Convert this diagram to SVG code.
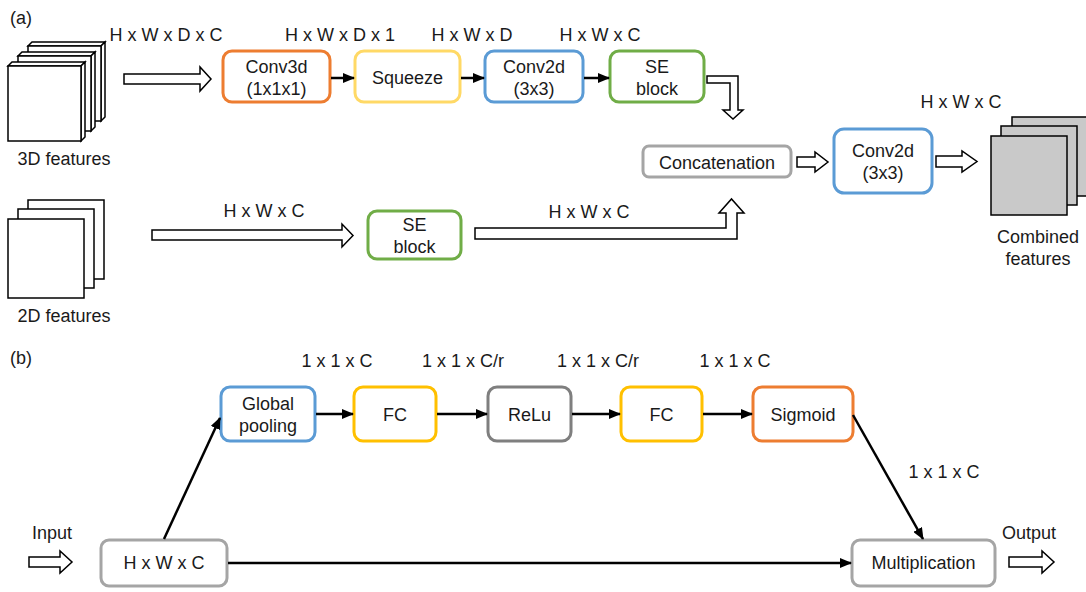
<svg xmlns="http://www.w3.org/2000/svg" width="1086" height="592" viewBox="0 0 1086 592">
  <defs>
    <style>
      text { font-family: "Liberation Sans", Arial, sans-serif; font-size: 18px; fill: #1a1a1a; }
      .c { text-anchor: middle; }
      .box { fill: #ffffff; stroke-width: 3; }
      .orange { stroke: #ED7D31; }
      .ylight { stroke: #FFD966; }
      .yellow { stroke: #FFC000; }
      .blue { stroke: #5B9BD5; }
      .green { stroke: #70AD47; }
      .grey { stroke: #A5A5A5; }
      .dgrey { stroke: #7F7F7F; }
      .hollow { fill: #ffffff; stroke: #000000; stroke-width: 1.5; stroke-linejoin: miter; }
      .link { fill: none; stroke: #000000; stroke-width: 2.5; marker-end: url(#head); }
      .sheet { fill: #ffffff; stroke: #000000; stroke-width: 1.5; stroke-linejoin: miter; }
      .gsheet { fill: #C9C9C9; stroke: #000000; stroke-width: 1.5; }
    </style>
    <marker id="head" markerUnits="userSpaceOnUse" markerWidth="12" markerHeight="10" refX="11" refY="5" orient="auto">
      <path d="M0,0 L12,5 L0,10 Z" fill="#000000"/>
    </marker>
    <!-- one slab of the 3D feature stack: top face, side face, front face -->
    <g id="slab">
      <path class="sheet" d="M0,0 L4,-4 L77,-4 L73,0 Z"/>
      <path class="sheet" d="M73,0 L77,-4 L77,71 L73,75 Z"/>
      <rect class="sheet" x="0" y="0" width="73" height="75"/>
    </g>
  </defs>

  <!-- panel labels -->
  <text x="10" y="24">(a)</text>
  <text x="10" y="364">(b)</text>

  <!-- ===== (a) ===== -->
  <g id="features3d">
    <use href="#slab" x="28" y="46"/>
    <use href="#slab" x="18" y="56"/>
    <use href="#slab" x="8" y="66"/>
    <text class="c" x="64" y="165">3D features</text>
  </g>

  <g id="features2d">
    <rect class="sheet" x="28" y="200" width="76" height="79"/>
    <rect class="sheet" x="18" y="209" width="76" height="79"/>
    <rect class="sheet" x="8" y="219" width="76" height="79"/>
    <text class="c" x="64" y="322">2D features</text>
  </g>

  <g id="conv3d">
    <rect class="box orange" x="223" y="51" width="107" height="51" rx="9"/>
    <text class="c" x="276.5" y="73">Conv3d</text>
    <text class="c" x="276.5" y="95">(1x1x1)</text>
  </g>
  <g id="squeeze">
    <rect class="box ylight" x="355" y="51" width="105" height="51" rx="9"/>
    <text class="c" x="407.5" y="84">Squeeze</text>
  </g>
  <g id="conv2d-a">
    <rect class="box blue" x="485" y="51" width="98" height="51" rx="9"/>
    <text class="c" x="534" y="73">Conv2d</text>
    <text class="c" x="534" y="95">(3x3)</text>
  </g>
  <g id="se-3d">
    <rect class="box green" x="610" y="51" width="94" height="51" rx="9"/>
    <text class="c" x="657" y="73">SE</text>
    <text class="c" x="657" y="95">block</text>
  </g>
  <g id="se-2d">
    <rect class="box green" x="368" y="211" width="93" height="48" rx="9"/>
    <text class="c" x="414.5" y="231">SE</text>
    <text class="c" x="414.5" y="253">block</text>
  </g>
  <g id="concat">
    <rect class="box grey" x="643" y="146" width="148" height="31" rx="6"/>
    <text class="c" x="717" y="169">Concatenation</text>
  </g>
  <g id="conv2d-b">
    <rect class="box blue" x="834" y="129" width="98" height="64" rx="10"/>
    <text class="c" x="883" y="157">Conv2d</text>
    <text class="c" x="883" y="179">(3x3)</text>
  </g>
  <g id="combined">
    <rect class="gsheet" x="1012" y="117" width="76" height="79"/>
    <rect class="gsheet" x="1001" y="126" width="76" height="79"/>
    <rect class="gsheet" x="991" y="136" width="76" height="79"/>
    <text class="c" x="1038" y="243">Combined</text>
    <text class="c" x="1038" y="265">features</text>
  </g>

  <!-- tensor shape labels, (a) -->
  <g id="shapes-a">
    <text class="c" x="166" y="41">H x W x D x C</text>
    <text class="c" x="340" y="41">H x W x D x 1</text>
    <text class="c" x="472" y="41">H x W x D</text>
    <text class="c" x="600" y="41">H x W x C</text>
    <text class="c" x="961" y="108">H x W x C</text>
    <text class="c" x="264" y="217">H x W x C</text>
    <text class="c" x="589" y="218">H x W x C</text>
  </g>

  <!-- ===== (b) ===== -->
  <g id="global-pooling">
    <rect class="box blue" x="221" y="387" width="94" height="54" rx="9"/>
    <text class="c" x="268" y="410">Global</text>
    <text class="c" x="268" y="432">pooling</text>
  </g>
  <g id="fc1">
    <rect class="box yellow" x="354" y="387" width="82" height="54" rx="9"/>
    <text class="c" x="395" y="421">FC</text>
  </g>
  <g id="relu">
    <rect class="box dgrey" x="488" y="387" width="83" height="54" rx="9"/>
    <text class="c" x="529.5" y="421">ReLu</text>
  </g>
  <g id="fc2">
    <rect class="box yellow" x="621" y="387" width="81" height="54" rx="9"/>
    <text class="c" x="661.5" y="421">FC</text>
  </g>
  <g id="sigmoid">
    <rect class="box orange" x="753" y="387" width="100" height="54" rx="9"/>
    <text class="c" x="803" y="421">Sigmoid</text>
  </g>
  <g id="input-box">
    <rect class="box grey" x="101" y="540" width="126" height="46" rx="8"/>
    <text class="c" x="164" y="569">H x W x C</text>
  </g>
  <g id="multiplication">
    <rect class="box grey" x="852" y="540" width="143" height="46" rx="8"/>
    <text class="c" x="923.5" y="569">Multiplication</text>
  </g>

  <!-- labels, (b) -->
  <g id="shapes-b">
    <text class="c" x="337" y="367">1 x 1 x C</text>
    <text class="c" x="463" y="367">1 x 1 x C/r</text>
    <text class="c" x="598" y="367">1 x 1 x C/r</text>
    <text class="c" x="735" y="367">1 x 1 x C</text>
    <text class="c" x="944" y="478">1 x 1 x C</text>
    <text class="c" x="52" y="539">Input</text>
    <text class="c" x="1029" y="539">Output</text>
  </g>

  <!-- connectors -->
  <g id="connectors">
    <!-- hollow block arrows -->
    <path class="hollow" d="M124,74 H200 V67 L211,79 L200,91 V84 H124 Z"/>
    <path class="hollow" d="M707,76 H738 V110 H743 L733,119 L723,110 H730 V83 H707 Z"/>
    <path class="hollow" d="M152,230 H342 V224 L353,235.5 L342,247 V240 H152 Z"/>
    <path class="hollow" d="M475,228 H726 V213 H719 L731.5,199 L744,213 H737 V239 H475 Z"/>
    <path class="hollow" d="M797,157 H815 V152 L828,162 L815,172 V167 H797 Z"/>
    <path class="hollow" d="M936,156 H962 V151 L977,161.5 L962,172 V167 H936 Z"/>
    <path class="hollow" d="M29,557 H60 V551 L72,562 L60,573 V567 H29 Z"/>
    <path class="hollow" d="M1009,557 H1042 V551 L1054,562 L1042,573 V567 H1009 Z"/>

    <!-- (a) main path -->
    <line class="link" x1="331" y1="78" x2="354" y2="78"/>
    <line class="link" x1="461" y1="78" x2="484" y2="78"/>
    <line class="link" x1="584" y1="78" x2="609" y2="78"/>

    <!-- (b) squeeze-excitation path -->
    <line class="link" x1="164" y1="539" x2="220" y2="418"/>
    <line class="link" x1="316" y1="414" x2="353" y2="414"/>
    <line class="link" x1="437" y1="414" x2="487" y2="414"/>
    <line class="link" x1="572" y1="414" x2="620" y2="414"/>
    <line class="link" x1="703" y1="414" x2="752" y2="414"/>
    <line class="link" x1="853" y1="415" x2="923" y2="539"/>
    <line class="link" x1="228" y1="563" x2="851" y2="563"/>
  </g>
</svg>
